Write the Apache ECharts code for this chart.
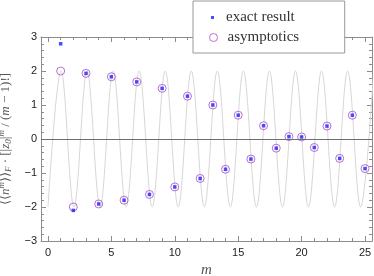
<!DOCTYPE html>
<html>
<head>
<meta charset="utf-8">
<script src="https://cdn.jsdelivr.net/npm/echarts@6/dist/echarts.min.js"></script>
<style>
html,body{margin:0;padding:0;background:#fff;}
#chart{width:374px;height:276px;}
</style>
</head>
<body>
<div id="chart"></div>
<script>
// ---- data ----
const mValues = [1,2,3,4,5,6,7,8,9,10,11,12,13,14,15,16,17,18,19,20,21,22,23,24,25];
const exactResult = [2.80,-2.10,1.93,-1.91,1.83,-1.80,1.68,-1.63,1.49,-1.41,1.26,-1.16,1.00,-0.89,0.70,-0.59,0.39,-0.27,0.07,0.06,-0.25,0.38,-0.57,0.70,-0.87];
const asymptotics = [2.00,-2.00,1.93,-1.91,1.83,-1.80,1.68,-1.63,1.49,-1.41,1.26,-1.16,1.00,-0.89,0.70,-0.59,0.39,-0.27,0.07,0.06,-0.25,0.38,-0.57,0.70,-0.87];
// extrema of the grey oscillating guide curve
const curveX = [0,1.03,2.05,3.08,4.11,5.14,6.16,7.19,8.22,9.25,10.27,11.30,12.33,13.35,14.38,15.41,16.44,17.46,18.49,19.52,20.54,21.57,22.60,23.63,24.65,25.68];
const curveY = [-2,2,-2,2,-2,2,-2,2,-2,2,-2,2,-2,2,-2,2,-2,2,-2,2,-2,2,-2,2,-2,2];
const xMajorTicks = [0,5,10,15,20,25];
const xMinorTicks = [1,2,3,4,6,7,8,9,11,12,13,14,16,17,18,19,21,22,23,24];
const X_MIN = -0.55, X_MAX = 25.55;
const Y_MIN = -3, Y_MAX = 3;

const frameColor = '#8c8c8c';
const labelColor = '#222';
const purple = '#a94cc6';
const blue = '#1e1eff';

const chart = echarts.init(document.getElementById('chart'), null, {renderer:'canvas'});

function xAxisDef(pos, ticks, len, showLine, showLabels, extra) {
  return Object.assign({
    type:'value', position:pos, min:X_MIN, max:X_MAX, gridIndex:0,
    splitLine:{show:false},
    axisLine:{show:showLine, onZero:false, lineStyle:{color:frameColor, width:1}},
    axisTick:{show:true, inside:true, length:len, customValues:ticks, lineStyle:{color:frameColor, width:1}},
    axisLabel:{show:showLabels, customValues:ticks, margin:6, fontSize:11, color:labelColor, fontFamily:'Liberation Sans'}
  }, extra || {});
}
function yAxisDef(pos, showLabels, extra) {
  return Object.assign({
    type:'value', position:pos, min:Y_MIN, max:Y_MAX, interval:1, gridIndex:0,
    splitLine:{show:false},
    axisLine:{show:true, onZero:false, lineStyle:{color:frameColor, width:1}},
    axisTick:{show:true, inside:true, length:5, lineStyle:{color:frameColor, width:1}},
    minorTick:{show:true, splitNumber:5, length:3, lineStyle:{color:frameColor, width:1}},
    axisLabel:{show:showLabels, margin:4, fontSize:11, color:labelColor, fontFamily:'Liberation Sans',
      formatter: v => String(v).replace('-', '\u2212')}
  }, extra || {});
}

const txt = '#555';
const legendText = {fontFamily:'Liberation Serif', fontSize:15, color:'#333'};
const option = {
  animation:false,
  backgroundColor:'#fff',
  grid:{left:41, right:2, top:37, bottom:35, containLabel:false, outerBoundsMode:'none'},
  legend:[
    {
      orient:'vertical', left:193, top:1, z:10,
      padding:[9,50,28,18], itemWidth:3, itemHeight:3,
      backgroundColor:'#fff', borderColor:'#999', borderWidth:1, borderRadius:0,
      textStyle:Object.assign({padding:[0,0,0,7]}, legendText),
      data:[{name:'exact result', icon:'rect'}]
    },
    {
      orient:'vertical', left:209, top:30, z:11,
      padding:0, itemWidth:8, itemHeight:8,
      textStyle:Object.assign({padding:[0,0,0,5]}, legendText),
      data:[{name:'asymptotics', icon:'circle', itemStyle:{color:'transparent', borderColor:purple, borderWidth:1}}]
    }
  ],
  xAxis:[
    xAxisDef('bottom', xMajorTicks, 5, true, true, {
      name:'m', nameLocation:'middle', nameGap:19,
      nameTextStyle:{fontFamily:'Liberation Serif', fontStyle:'italic', fontSize:15, color:txt}
    }),
    xAxisDef('bottom', xMinorTicks, 3, false, false),
    xAxisDef('top', xMajorTicks, 5, true, false),
    xAxisDef('top', xMinorTicks, 3, false, false)
  ],
  yAxis:[
    yAxisDef('left', true, {
      name:'{t|\u27E8\u27E8}{i|n}{s|m}{t|\u27E9\u27E9}{b|F}{t| \u00B7 [|}{i|z}{b|0}{t||}{s|m}{t| / (}{i|m}{t| \u2212 1)!]}',
      nameLocation:'middle', nameRotate:90, nameGap:27,
      nameTextStyle:{
        rich:{
          t:{fontFamily:'Liberation Serif', fontSize:13, color:txt, lineHeight:16, verticalAlign:'middle'},
          i:{fontFamily:'Liberation Serif', fontStyle:'italic', fontSize:13, color:txt, lineHeight:16, verticalAlign:'middle'},
          s:{fontFamily:'Liberation Serif', fontStyle:'italic', fontSize:9, color:txt, lineHeight:16, verticalAlign:'top'},
          b:{fontFamily:'Liberation Serif', fontStyle:'italic', fontSize:9, color:txt, lineHeight:16, verticalAlign:'bottom'}
        }
      }
    }),
    yAxisDef('right', false)
  ],
  series:[
    {
      name:'guide', type:'line', xAxisIndex:0, yAxisIndex:0,
      data: curveX.map((x,i)=>[x, curveY[i]]),
      smooth:0.364, smoothMonotone:'x', showSymbol:false, symbol:'none', clip:true,
      lineStyle:{color:'#d6d6d6', width:1}, silent:true, z:1,
      markLine:{silent:true, symbol:['none','none'], label:{show:false},
        lineStyle:{color:'#6e6e6e', width:1, type:'solid'}, data:[{yAxis:0}]}
    },
    {
      name:'asymptotics', type:'scatter', xAxisIndex:0, yAxisIndex:0,
      data: mValues.map((m,i)=>[m, asymptotics[i]]),
      symbol:'circle', symbolSize:8,
      itemStyle:{color:'transparent', borderColor:purple, borderWidth:1}, z:3
    },
    {
      name:'exact result', type:'scatter', xAxisIndex:0, yAxisIndex:0,
      data: mValues.map((m,i)=>[m, exactResult[i]]),
      symbol:'rect', symbolSize:3.5,
      itemStyle:{color:blue}, z:4
    }
  ]
};
chart.setOption(option);
</script>
</body>
</html>
